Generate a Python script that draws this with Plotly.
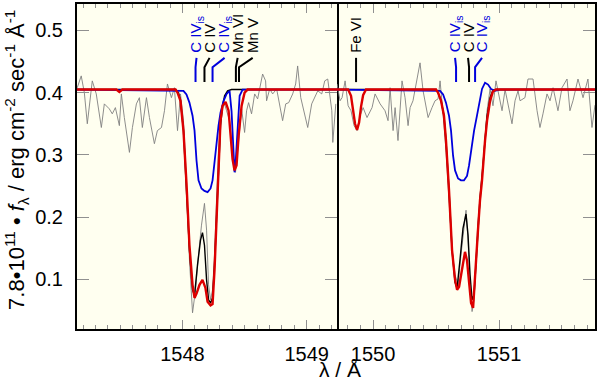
import plotly.graph_objects as go

# ---------------- data: left panel (C IV 1548) ----------------
obs_l_lam = [1547.145, 1547.153, 1547.185, 1547.210, 1547.234, 1547.274, 1547.306, 1547.347, 1547.371,
             1547.411, 1547.435, 1547.460, 1547.492, 1547.508, 1547.532, 1547.573, 1547.597, 1547.629,
             1547.653, 1547.677, 1547.710, 1547.734, 1547.774, 1547.798, 1547.831, 1547.855, 1547.879,
             1547.911, 1547.935, 1547.960, 1547.984, 1548.008, 1548.032, 1548.056, 1548.081, 1548.105,
             1548.129, 1548.153, 1548.177, 1548.194, 1548.210, 1548.226, 1548.242, 1548.258, 1548.274,
             1548.290, 1548.306, 1548.331, 1548.355, 1548.379, 1548.403, 1548.427, 1548.452, 1548.476,
             1548.500, 1548.516, 1548.532, 1548.556, 1548.581, 1548.605, 1548.645, 1548.669, 1548.677,
             1548.702, 1548.726, 1548.758, 1548.806, 1548.831, 1548.855, 1548.887, 1548.911, 1548.927,
             1548.952, 1548.976, 1549.008, 1549.040, 1549.065, 1549.089, 1549.121, 1549.145, 1549.169,
             1549.202, 1549.210, 1549.234]
obs_l_flux = [0.405, 0.408, 0.427, 0.400, 0.350, 0.419, 0.398, 0.344, 0.382,
              0.374, 0.366, 0.376, 0.347, 0.398, 0.360, 0.304, 0.344, 0.382,
              0.392, 0.344, 0.392, 0.360, 0.318, 0.339, 0.344, 0.371, 0.414,
              0.392, 0.408, 0.339, 0.398, 0.355, 0.259, 0.131, 0.046, 0.083,
              0.139, 0.187, 0.222, 0.179, 0.091, 0.067, 0.083, 0.139, 0.227,
              0.307, 0.355, 0.387, 0.371, 0.355, 0.307, 0.272, 0.323, 0.374,
              0.336, 0.371, 0.384, 0.366, 0.398, 0.390, 0.430, 0.419, 0.387,
              0.406, 0.398, 0.406, 0.355, 0.382, 0.384, 0.398, 0.414, 0.443,
              0.392, 0.371, 0.344, 0.382, 0.392, 0.403, 0.398, 0.419, 0.422,
              0.371, 0.320, 0.382]

black_l_lam = [1547.145, 1547.944, 1547.968, 1547.984, 1548.008, 1548.032, 1548.056, 1548.081, 1548.097,
               1548.121, 1548.145, 1548.161, 1548.177, 1548.194, 1548.210, 1548.226, 1548.242, 1548.258,
               1548.274, 1548.290, 1548.306, 1548.323, 1548.339, 1548.363, 1548.395, 1549.244]
black_l_flux = [0.405, 0.405, 0.400, 0.387, 0.339, 0.243, 0.147, 0.083, 0.074,
                0.123, 0.163, 0.175, 0.155, 0.099, 0.067, 0.062, 0.070, 0.123,
                0.203, 0.291, 0.347, 0.379, 0.395, 0.403, 0.405, 0.405]

blue_l_lam = [1547.145, 1548.008, 1548.032, 1548.056, 1548.081, 1548.097, 1548.113, 1548.129, 1548.153,
              1548.177, 1548.202, 1548.226, 1548.242, 1548.258, 1548.274, 1548.290, 1548.306, 1548.331,
              1548.355, 1548.379, 1548.395, 1548.411, 1548.419, 1548.427, 1548.444, 1548.460, 1548.484,
              1549.244]
blue_l_flux = [0.405, 0.403, 0.397, 0.384, 0.363, 0.339, 0.291, 0.259, 0.246,
               0.242, 0.240, 0.246, 0.259, 0.291, 0.323, 0.347, 0.368, 0.387,
               0.398, 0.403, 0.370, 0.300, 0.272, 0.285, 0.350, 0.395, 0.405,
               0.405]

red_l_lam = [1547.145, 1547.468, 1547.492, 1547.516, 1547.944, 1547.960, 1547.984, 1548.008, 1548.032,
             1548.056, 1548.081, 1548.097, 1548.113, 1548.137, 1548.161, 1548.185, 1548.202, 1548.226,
             1548.242, 1548.258, 1548.274, 1548.290, 1548.306, 1548.323, 1548.347, 1548.371, 1548.387,
             1548.403, 1548.419, 1548.435, 1548.452, 1548.476, 1548.500, 1548.524, 1549.244]
red_l_flux = [0.405, 0.405, 0.401, 0.405, 0.405, 0.400, 0.387, 0.339, 0.255,
              0.155, 0.091, 0.070, 0.077, 0.091, 0.099, 0.086, 0.064, 0.058,
              0.060, 0.115, 0.195, 0.291, 0.355, 0.379, 0.385, 0.371, 0.330,
              0.293, 0.275, 0.283, 0.331, 0.379, 0.400, 0.405, 0.405]

# ---------------- data: right panel (C IV 1550) ----------------
obs_r_lam = [1549.714, 1549.738, 1549.754, 1549.778, 1549.802, 1549.825, 1549.849, 1549.873, 1549.897,
             1549.921, 1549.952, 1549.992, 1550.016, 1550.056, 1550.095, 1550.119, 1550.135, 1550.159,
             1550.175, 1550.198, 1550.230, 1550.254, 1550.278, 1550.294, 1550.317, 1550.349, 1550.373,
             1550.397, 1550.421, 1550.437, 1550.468, 1550.492, 1550.516, 1550.532, 1550.556, 1550.579,
             1550.603, 1550.627, 1550.651, 1550.675, 1550.698, 1550.722, 1550.738, 1550.754, 1550.770,
             1550.786, 1550.802, 1550.817, 1550.833, 1550.849, 1550.865, 1550.889, 1550.905, 1550.929,
             1550.952, 1550.976, 1551.000, 1551.024, 1551.048, 1551.071, 1551.103, 1551.127, 1551.151,
             1551.167, 1551.206, 1551.230, 1551.270, 1551.302, 1551.325, 1551.349, 1551.381, 1551.405,
             1551.429, 1551.468, 1551.500, 1551.540, 1551.563, 1551.587, 1551.627, 1551.667, 1551.706,
             1551.738, 1551.762]
obs_r_flux = [0.414, 0.387, 0.392, 0.419, 0.379, 0.371, 0.347, 0.339, 0.363,
              0.376, 0.360, 0.376, 0.398, 0.382, 0.371, 0.355, 0.408, 0.339,
              0.376, 0.323, 0.419, 0.392, 0.347, 0.376, 0.387, 0.419, 0.448,
              0.403, 0.379, 0.360, 0.376, 0.387, 0.390, 0.419, 0.365, 0.307,
              0.227, 0.147, 0.107, 0.091, 0.139, 0.187, 0.211, 0.163, 0.091,
              0.048, 0.067, 0.131, 0.195, 0.219, 0.267, 0.331, 0.371, 0.406,
              0.379, 0.419, 0.392, 0.371, 0.405, 0.380, 0.350, 0.387, 0.403,
              0.387, 0.392, 0.422, 0.422, 0.371, 0.344, 0.366, 0.398, 0.387,
              0.408, 0.371, 0.408, 0.422, 0.371, 0.387, 0.422, 0.392, 0.422,
              0.344, 0.380]

black_r_lam = [1549.714, 1550.500, 1550.516, 1550.540, 1550.563, 1550.579, 1550.603, 1550.627, 1550.651,
               1550.667, 1550.690, 1550.714, 1550.738, 1550.754, 1550.770, 1550.786, 1550.802, 1550.817,
               1550.833, 1550.849, 1550.865, 1550.889, 1550.905, 1550.929, 1550.952, 1550.976, 1551.762]
black_r_flux = [0.405, 0.405, 0.400, 0.387, 0.363, 0.323, 0.243, 0.147, 0.095,
                0.086, 0.131, 0.182, 0.205, 0.171, 0.107, 0.067, 0.075, 0.130,
                0.185, 0.230, 0.265, 0.330, 0.362, 0.392, 0.404, 0.405, 0.405]

blue_r_lam = [1549.714, 1550.532, 1550.556, 1550.579, 1550.603, 1550.619, 1550.635, 1550.651, 1550.675,
              1550.698, 1550.722, 1550.746, 1550.762, 1550.778, 1550.802, 1550.825, 1550.849, 1550.865,
              1550.889, 1550.913, 1550.937, 1550.968, 1551.008, 1551.762]
blue_r_flux = [0.405, 0.403, 0.397, 0.384, 0.363, 0.339, 0.299, 0.275, 0.262,
               0.259, 0.259, 0.266, 0.283, 0.307, 0.339, 0.363, 0.387, 0.406,
               0.416, 0.413, 0.406, 0.403, 0.405, 0.405]

red_r_lam = [1549.714, 1549.802, 1549.825, 1549.841, 1549.857, 1549.873, 1549.889, 1549.905, 1549.921,
             1549.944, 1550.500, 1550.516, 1550.540, 1550.563, 1550.579, 1550.603, 1550.627, 1550.651,
             1550.667, 1550.683, 1550.706, 1550.730, 1550.746, 1550.762, 1550.778, 1550.794, 1550.810,
             1550.833, 1550.849, 1550.865, 1550.889, 1550.905, 1550.929, 1550.952, 1550.976, 1551.762]
red_r_flux = [0.405, 0.405, 0.395, 0.375, 0.350, 0.340, 0.352, 0.378, 0.396,
              0.405, 0.405, 0.400, 0.387, 0.363, 0.323, 0.243, 0.147, 0.099,
              0.083, 0.088, 0.115, 0.144, 0.130, 0.090, 0.062, 0.054, 0.099,
              0.179, 0.227, 0.259, 0.323, 0.355, 0.387, 0.402, 0.405, 0.405]

# ---------------- line identifications ----------------
id_labels = ["C IV<sub>is</sub>", "C IV", "C IV<sub>is</sub>", "Mn VI", "Mn V",
             "Fe VI", "C IV<sub>is</sub>", "C IV", "C IV<sub>is</sub>"]
id_line_lam = [1548.105, 1548.177, 1548.242, 1548.430, 1548.455,
               1549.865, 1550.659, 1550.762, 1550.810]
id_label_lam = [1548.113, 1548.218, 1548.339, 1548.444, 1548.565,
                1549.865, 1550.651, 1550.754, 1550.865]
id_panel = [1, 1, 1, 1, 1, 2, 2, 2, 2]
id_kind = ["is", "ph", "is", "ph", "ph", "ph", "is", "ph", "is"]

x_ticks_left = [1548, 1549]
x_ticks_right = [1550, 1551]
y_ticks = [0.1, 0.2, 0.3, 0.4, 0.5]

# ---------------- style ----------------
FONT = "Liberation Sans, Arial, Helvetica, sans-serif"
RED = "#dd0000"
BLUE = "#0000dd"
GREY = "#808080"
BG = "#fffff0"
TICKC = "#909090"
YR = [0.020, 0.5426]
XL = [1547.151, 1549.244]
XR = [1549.714, 1551.762]
SPLIT = 0.502

fig = go.Figure()


def add_line(x, y, color, width, xa, ya):
    fig.add_trace(go.Scatter(x=x, y=y, mode="lines", line=dict(color=color, width=width),
                             xaxis=xa, yaxis=ya, showlegend=False, hoverinfo="skip"))


for xa, ya, o, b, bl, r in [
    ("x", "y", (obs_l_lam, obs_l_flux), (black_l_lam, black_l_flux), (blue_l_lam, blue_l_flux), (red_l_lam, red_l_flux)),
    ("x2", "y2", (obs_r_lam, obs_r_flux), (black_r_lam, black_r_flux), (blue_r_lam, blue_r_flux), (red_r_lam, red_r_flux)),
]:
    add_line(o[0], o[1], GREY, 0.9, xa, ya)
    add_line(b[0], b[1], "black", 1.4, xa, ya)
    add_line(bl[0], bl[1], BLUE, 1.8, xa, ya)
    add_line(r[0], r[1], RED, 2.4, xa, ya)

# identification markers
Y_TOP, Y_BEND, Y_BOT, Y_LAB = 0.456, 0.441, 0.417, 0.461
annotations = []
for lab, ll, lx, p, k in zip(id_labels, id_line_lam, id_label_lam, id_panel, id_kind):
    col = BLUE if k == "is" else "black"
    xa = "x" if p == 1 else "x2"
    ya = "y" if p == 1 else "y2"
    add_line([lx, ll, ll], [Y_TOP, Y_BEND, Y_BOT], col, 2, xa, ya)
    annotations.append(dict(x=lx, y=Y_LAB, xref=xa, yref=ya, text=lab, textangle=-90,
                            showarrow=False, xanchor="center", yanchor="bottom",
                            font=dict(family=FONT, size=15, color=col)))

annotations.append(dict(
    x=-0.118, y=0.52, xref="paper", yref="paper", textangle=-90, showarrow=False,
    xanchor="center", yanchor="middle",
    text="7.8•10<sup>11</sup> • <i>f</i><sub>λ</sub> / erg cm<sup>-2</sup> sec<sup>-1</sup> Å<sup>-1</sup>",
    font=dict(family=FONT, size=22, color="black")))
annotations.append(dict(
    x=0.508, y=-0.126, xref="paper", yref="paper", showarrow=False,
    xanchor="center", yanchor="middle", text="λ / Å",
    font=dict(family=FONT, size=21, color="black")))

xcommon = dict(ticks="inside", ticklen=9, tickwidth=1, tickcolor=TICKC,
               minor=dict(dtick=0.1, tick0=0, ticks="inside", ticklen=4, tickcolor=TICKC, tickwidth=1),
               showline=True, linecolor="black", linewidth=2, mirror="ticks",
               showgrid=False, zeroline=False, tickfont=dict(family=FONT, size=20, color="black"),
               ticklabelstandoff=6, automargin=False)
ycommon = dict(range=YR, ticks="inside", ticklen=12, tickwidth=1, tickcolor=TICKC,
               tickvals=y_ticks, showline=True, linecolor="black", linewidth=2,
               showgrid=False, zeroline=False, domain=[0, 1], automargin=False)

fig.update_layout(
    width=600, height=383,
    margin=dict(l=77, r=5, t=4, b=54, autoexpand=False),
    paper_bgcolor="white", plot_bgcolor=BG,
    font=dict(family=FONT, color="black"),
    showlegend=False,
    xaxis=dict(domain=[0, SPLIT], range=XL, anchor="y", tickvals=x_ticks_left, **xcommon),
    xaxis2=dict(domain=[SPLIT, 1], range=XR, anchor="y2", tickvals=x_ticks_right, **xcommon),
    yaxis=dict(anchor="x", mirror="ticks", tickformat=".1f",
               tickfont=dict(family=FONT, size=20, color="black"), ticklabelstandoff=8, **ycommon),
    yaxis2=dict(anchor="x2", side="right", showticklabels=False, mirror=False, **ycommon),
    annotations=annotations,
)

fig.write_html("out.html", config={"displayModeBar": False},
               post_script="document.body.style.margin='0';document.body.style.overflow='hidden';")
